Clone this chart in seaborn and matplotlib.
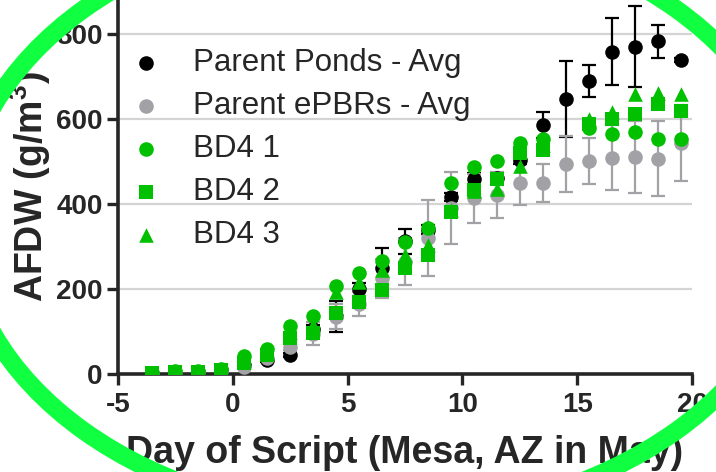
import numpy as np
import pandas as pd
import matplotlib
matplotlib.use("Agg")
import matplotlib.pyplot as plt
from matplotlib.patches import Ellipse
import seaborn as sns

days = [-3.5, -2.5, -1.5, -0.5, 0.5, 1.5, 2.5, 3.5, 4.5, 5.5, 6.5, 7.5,
        8.5, 9.5, 10.5, 11.5, 12.5, 13.5, 14.5, 15.5, 16.5, 17.5, 18.5, 19.5]

ponds_avg = [2, 3, 5, 10, 22, 32, 44, 105, 136, 199, 249, 312,
             340, 417, 460, 462, 504, 586, 647, 689, 758, 770, 783, 739]
ponds_err = [1, 1, 1, 2, 3, 4, 5, 10, 36, 15, 47, 30,
             10, 10, 12, 10, 10, 30, 90, 38, 79, 95, 39, 5]

epbr_avg = [2, 4, 5, 8, 16, 38, 64, 95, 135, 165, 225, 264,
            320, 390, 413, 421, 449, 450, 494, 502, 509, 511, 507, 543]
epbr_err = [1, 1, 1, 2, 3, 5, 8, 27, 30, 28, 45, 55,
            89, 85, 57, 55, 51, 45, 66, 54, 77, 84, 88, 89]

bd4_1 = [3, 6, 7, 12, 42, 60, 113, 136, 207, 237, 267, 311,
         343, 450, 488, 501, 544, 552, np.nan, 580, 564, 569, 552, 552]
bd4_2 = [2, 4, 5, 10, 27, 45, 84, 96, 143, 170, 198, 249,
         280, 382, 433, 460, 519, 527, np.nan, 588, 599, 611, 635, 618]
bd4_3 = [3, 5, 6, 10, 32, 52, 100, 115, 194, 217, 245, 280,
         303, 385, 430, 435, 489, 540, np.nan, 601, 617, 659, 662, 659]

BLACK = "#000000"
GRAY = "#A2A2A6"
GREEN = "#00C000"

sns.set_style("ticks")
plt.rcParams["font.family"] = ["Liberation Sans", "DejaVu Sans"]
plt.rcParams["axes.unicode_minus"] = False
plt.rcParams["mathtext.fontset"] = "custom"
plt.rcParams["mathtext.rm"] = "Liberation Sans"
plt.rcParams["mathtext.bf"] = "Liberation Sans:bold"

fig = plt.figure(figsize=(7.16, 4.72), dpi=100)
ax = fig.add_axes([0.1648, 0.2076, 0.8017, 0.7924])

for y in [200, 400, 600, 800]:
    ax.axhline(y, color="#d4d4d4", lw=1.6, zorder=0)

ax.errorbar(days, ponds_avg, yerr=ponds_err, fmt="none", ecolor=BLACK,
            elinewidth=1.6, capsize=5, capthick=1.6, zorder=2)
ax.errorbar(days, epbr_avg, yerr=epbr_err, fmt="none", ecolor=GRAY,
            elinewidth=1.6, capsize=5, capthick=1.6, zorder=2)

series = [
    ("Parent Ponds - Avg", ponds_avg, BLACK, "o"),
    ("Parent ePBRs - Avg", epbr_avg, GRAY, "o"),
    ("BD4 1", bd4_1, GREEN, "o"),
    ("BD4 2", bd4_2, GREEN, "s"),
    ("BD4 3", bd4_3, GREEN, "^"),
]
for name, vals, col, mk in series:
    df = pd.DataFrame({"day": days, "afdw": vals}).dropna()
    sz = 110 if mk != "s" else 95
    sns.scatterplot(data=df, x="day", y="afdw", color=col, marker=mk, s=sz,
                    linewidth=0, ax=ax, label=name, zorder=3)

ax.set_xlim(-5, 20)
ax.set_ylim(0, 880)
ax.set_xticks([-5, 0, 5, 10, 15, 20])
ax.set_yticks([0, 200, 400, 600, 800])
sns.despine(ax=ax)
for s in ["left", "bottom"]:
    ax.spines[s].set_linewidth(2.6)
ax.tick_params(axis="both", length=8, width=2.4, labelsize=20)
ax.tick_params(axis="x", pad=5)
ax.tick_params(axis="y", pad=3)
for lab in ax.get_xticklabels() + ax.get_yticklabels():
    lab.set_fontweight("bold")

ax.set_xlabel("Day of Script (Mesa, AZ in May)", fontsize=27,
              fontweight="bold", labelpad=12)
ax.set_ylabel(r"AFDW (g/m$^{\mathbf{3}}$)", fontsize=27, fontweight="bold",
              labelpad=2)

ax.legend(loc="upper left", bbox_to_anchor=(0.021, 0.872), frameon=False,
          fontsize=22.5, borderaxespad=0, borderpad=0, handlelength=1.0,
          handletextpad=1.0, labelspacing=0.42)

# bright green ring drawn over the whole figure
fig.add_artist(Ellipse((380 / 716, 1 - 220 / 472), 837 / 716, 597 / 472,
                       transform=fig.transFigure, fill=False,
                       edgecolor="#10FF40", lw=13, zorder=10))

fig.savefig("out.png", dpi=100)
